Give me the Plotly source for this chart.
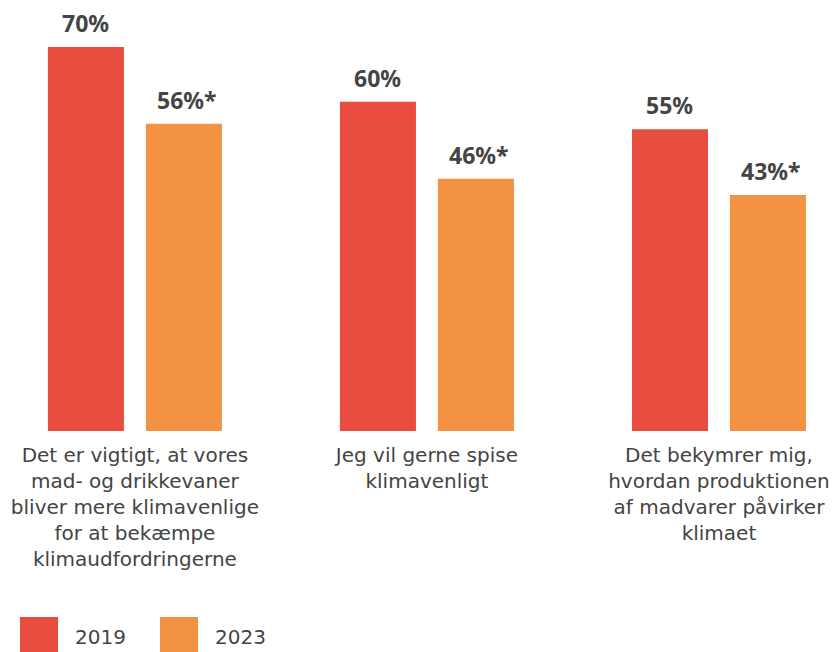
import plotly.graph_objects as go

# Survey statements (x categories) and share agreeing per year
categories = [
    "Det er vigtigt, at vores<br>mad- og drikkevaner<br>bliver mere klimavenlige<br>for at bekæmpe<br>klimaudfordringerne",
    "Jeg vil gerne spise<br>klimavenligt",
    "Det bekymrer mig,<br>hvordan produktionen<br>af madvarer påvirker<br>klimaet",
]
years = ["2019", "2023"]
values_2019 = [70, 60, 55]
values_2023 = [56, 46, 43]
labels_2019 = ["70%", "60%", "55%"]
labels_2023 = ["56%*", "46%*", "43%*"]

RED = "#E84C3F"
ORANGE = "#F29242"
TEXT = "#444444"
FONT = "DejaVu Sans"
BOLD_FONT = "Noto Sans"

W, H = 834, 652
M_T, M_B = 10, 221
BAR_OFFSET = 49  # px from group centre to each bar centre

fig = go.Figure()
x_idx = list(range(len(categories)))
series = [
    (years[0], values_2019, labels_2019, RED, -BAR_OFFSET),
    (years[1], values_2023, labels_2023, ORANGE, BAR_OFFSET),
]
annotations, shapes = [], []
for name, vals, labs, col, dx in series:
    fig.add_trace(go.Bar(
        x=x_idx, y=vals, name=name, marker=dict(color=col, line=dict(width=0)),
        showlegend=False, hoverinfo="x+y",
    ))
    # value labels above each bar
    for xi, v, lab in zip(x_idx, vals, labs):
        annotations.append(dict(
            x=xi, y=v, xref="x", yref="y", text=lab, showarrow=False,
            xshift=dx + (3 if lab.endswith("*") else 0), yanchor="bottom", yshift=6,
            font=dict(family=BOLD_FONT, size=23, color=TEXT, weight="bold"),
        ))

# Legend swatches drawn in paper space below the category labels
plot_h = H - M_T - M_B
def py(pix):
    return (H - M_B - pix) / plot_h

legend_items = [(years[0], RED, 20, 73), (years[1], ORANGE, 160, 213)]
for name, col, sx, tx in legend_items:
    shapes.append(dict(type="rect", xref="paper", yref="paper",
                       x0=sx / W, x1=(sx + 38) / W, y0=py(660), y1=py(617),
                       fillcolor=col, line=dict(width=0), layer="above"))
    annotations.append(dict(xref="paper", yref="paper", x=tx / W, y=py(637),
                            text=name, showarrow=False, xanchor="left", yanchor="middle",
                            font=dict(family=FONT, size=20, color=TEXT)))

fig.update_layout(
    width=W, height=H,
    margin=dict(l=0, r=0, t=M_T, b=M_B),
    paper_bgcolor="white", plot_bgcolor="white",
    barmode="group", bargap=0.329, bargroupgap=0.224,
    font=dict(family=FONT, color=TEXT),
    xaxis=dict(
        range=[-0.462, 2.394], tickvals=x_idx, ticktext=categories,
        showgrid=False, zeroline=False, showline=False, ticks="",
        tickfont=dict(family=FONT, size=20, color=TEXT), ticklabelstandoff=10,
    ),
    yaxis=dict(range=[0, (H - M_T - M_B) / 5.486], visible=False),
    shapes=shapes, annotations=annotations,
)

fig.write_html("out.html")
